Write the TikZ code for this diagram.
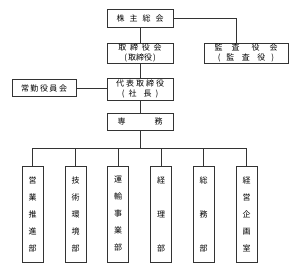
\documentclass[tikz,border=0pt]{standalone}
\usepackage{fontspec}
\newfontfamily\jp{Noto Sans CJK JP}
\usetikzlibrary{calc}
\tikzset{
  box/.style={draw=black!80, line width=0.8pt, align=center, inner sep=0pt, font=\jp\fontsize{8}{10}\selectfont},
  dept/.style={box, minimum width=21pt, minimum height=96pt, font=\jp\fontsize{8}{17}\selectfont},
  link/.style={draw=black!80, line width=0.8pt}
}
\newcommand{\gp}[1]{\hspace{#1pt}}

\begin{document}
\begin{tikzpicture}[x=1pt,y=-1pt]
  \useasboundingbox (0,0) rectangle (300,271);

  \node[box, minimum width=66pt, minimum height=18pt] (agm) at (140,18)
    {株\gp{5}主\gp{5}総\gp{5}会};
  \node[box, minimum width=66pt, minimum height=20pt] (board) at (140,53)
    {取\gp{3.7}締\gp{3.7}役\gp{3.7}会\\(\gp{1}取締役\gp{1})};
  \node[box, minimum width=84pt, minimum height=20pt] (audit) at (246,53)
    {監\gp{9}査\gp{12}役\gp{10}会\\(\gp{6}監\gp{7.5}査\gp{7.5}役\gp{6})};
  \node[box, minimum width=66pt, minimum height=22pt] (ceo) at (140,89)
    {代\gp{2}表\gp{2}取\gp{2}締\gp{2}役\\(\gp{4}社\gp{7}長\gp{4})};
  \node[box, minimum width=64pt, minimum height=17pt] (jokin) at (44,88)
    {常\gp{1.5}勤\gp{1.5}役\gp{1.5}員\gp{1.5}会};
  \node[box, minimum width=66pt, minimum height=17pt] (senmu) at (140,121.5)
    {専\gp{29}務};

  % departments
  \foreach \i/\x/\txt in {1/32.5/{営\\業\\推\\進\\部}, 2/75.5/{技\\術\\環\\境\\部},
      3/118/{運\\輸\\事\\業\\部}, 4/161/{経\\[17pt]理\\[17pt]部},
      5/203.5/{総\\[17pt]務\\[17pt]部}, 6/246.5/{経\\営\\企\\画\\室}}
    \node[dept] (d\i) at (\x,214) {\txt};

  \draw[link] (agm) -- (board);
  \draw[link] (agm.east) -| ([xshift=-10pt]audit.north);
  \draw[link] (board) -- (ceo);
  \draw[link] (jokin.east) -- (jokin.east -| ceo.west);
  \draw[link] (ceo) -- (senmu);

  \coordinate (bus) at (140,148);
  \draw[link] (senmu) -- (bus);
  \foreach \i in {1,...,6}
    \draw[link] (bus) -| (d\i.north);
\end{tikzpicture}
\end{document}
